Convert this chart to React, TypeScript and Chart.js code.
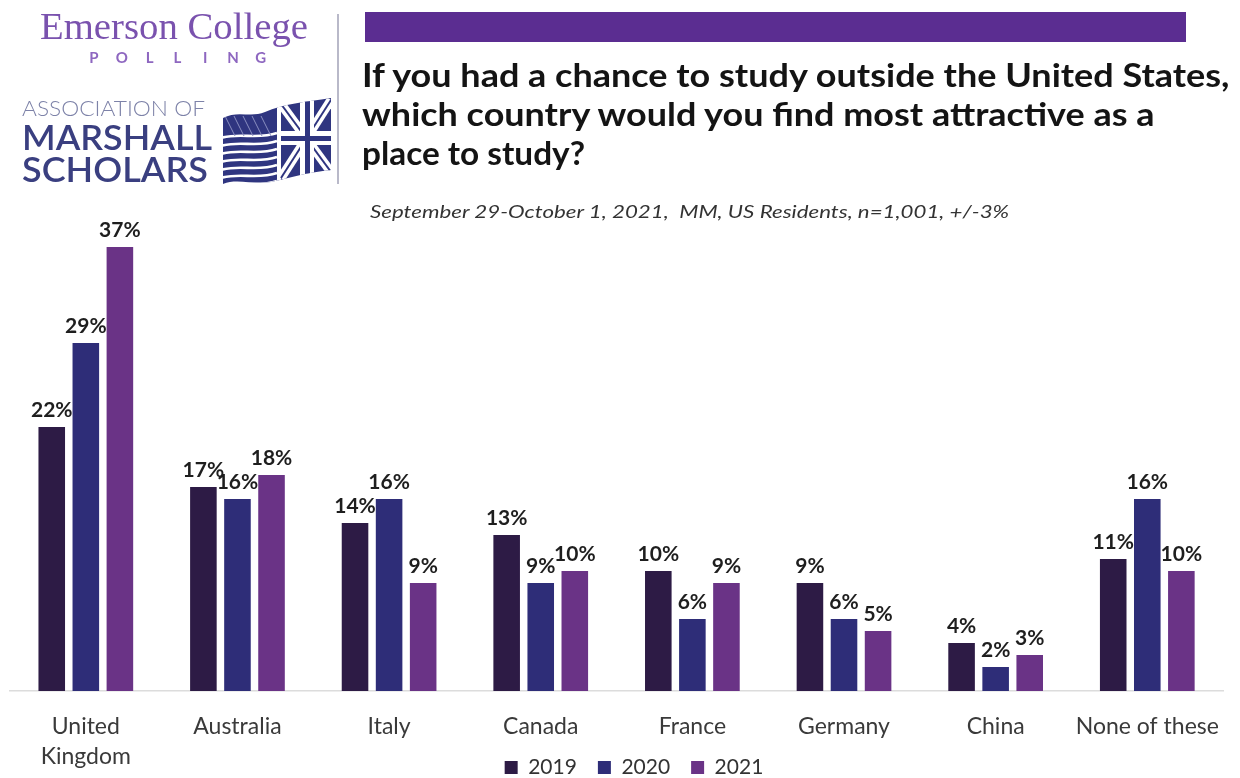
import React, { useEffect, useRef } from 'react';
import { Chart, registerables } from 'chart.js';

Chart.register(...registerables);

// ---- data ----
const categories: (string | string[])[] = [
  ['United', 'Kingdom'],
  'Australia',
  'Italy',
  'Canada',
  'France',
  'Germany',
  'China',
  'None of these',
];
const seriesNames = ['2019', '2020', '2021'];
const values2019 = [22, 17, 14, 13, 10, 9, 4, 11];
const values2020 = [29, 16, 16, 9, 6, 6, 2, 16];
const values2021 = [37, 18, 9, 10, 9, 5, 3, 10];
const seriesColors = ['#2D1B45', '#2E2D78', '#6A3386'];
const yMax = 40;

const titleLines = [
  'If you had a chance to study outside the United States,',
  'which country would you find most attractive as a',
  'place to study?',
];
const subtitleText = 'September 29-October 1, 2021,  MM, US Residents, n=1,001, +/-3%';

// ---- text helper (real HTML text, scaled horizontally to the reference width) ----
let measureCtx: CanvasRenderingContext2D | null = null;
function measure(text: string, font: string) {
  if (!measureCtx) measureCtx = document.createElement('canvas').getContext('2d');
  const c = measureCtx as CanvasRenderingContext2D;
  c.font = font;
  const m = c.measureText(text);
  return { w: m.width, asc: m.fontBoundingBoxAscent, desc: m.fontBoundingBoxDescent };
}

type TxtProps = {
  text: string;
  family: string;
  size: number;
  weight?: string;
  italic?: boolean;
  left: number;
  baseline: number;
  width?: number;
  color: string;
  center?: boolean;
};
function Txt({ text, family, size, weight = 'normal', italic = false, left, baseline, width, color, center }: TxtProps) {
  const font = `${italic ? 'italic ' : ''}${weight} ${size}px ${family}`;
  const m = measure(text, font);
  const sx = width ? width / m.w : 1;
  const lh = m.asc + m.desc;
  const x = center ? left - (m.w * sx) / 2 : left;
  return (
    <div
      style={{
        position: 'absolute',
        left: x,
        top: baseline - m.asc,
        fontFamily: family,
        fontSize: size,
        fontWeight: weight as any,
        fontStyle: italic ? 'italic' : 'normal',
        lineHeight: `${lh}px`,
        height: lh,
        color,
        whiteSpace: 'pre',
        transform: `scaleX(${sx})`,
        transformOrigin: '0 0',
      }}
    >
      {text}
    </div>
  );
}

function Flag() {
  const navy = '#2F3580';
  return (
    <svg
      width={112}
      height={86}
      viewBox="0 0 112 86"
      style={{ position: 'absolute', left: 221, top: 98 }}
    >
      <defs>
        <clipPath id="flagClip">
          <path d="M2,20 C16,12 30,20 44,14 C62,6 84,4 110,0 L110,72 C88,74 68,80 50,84 C32,87 16,80 2,86 Z" />
        </clipPath>
      </defs>
      <g clipPath="url(#flagClip)">
        <rect x={0} y={0} width={112} height={86} fill={navy} />
        {[0, 1, 2, 3, 4, 5, 6].map((i) => (
          <path
            key={'s' + i}
            d={`M0,${40 + i * 8} C18,${34 + i * 8} 36,${42 + i * 8} 56,${35 + i * 8}`}
            stroke="#fff"
            strokeWidth={2.6}
            fill="none"
          />
        ))}
        {[0, 1, 2, 3, 4].map((i) => (
          <path
            key={'c' + i}
            d={`M${4 + i * 9},18 L${14 + i * 9},38`}
            stroke="#8a8fc0"
            strokeWidth={1}
            fill="none"
          />
        ))}
        <rect x={56} y={0} width={4} height={86} fill="#fff" />
        <path d="M60,6 L110,74" stroke="#fff" strokeWidth={9} />
        <path d="M60,80 L110,2" stroke="#fff" strokeWidth={9} />
        <path d="M60,6 L110,74" stroke={navy} strokeWidth={2} />
        <path d="M60,80 L110,2" stroke={navy} strokeWidth={2} />
        <rect x={60} y={33} width={52} height={14} fill="#fff" />
        <rect x={79} y={0} width={14} height={86} fill="#fff" />
        <rect x={60} y={38} width={52} height={5} fill={navy} />
        <rect x={84} y={0} width={5} height={86} fill={navy} />
      </g>
    </svg>
  );
}

const valueLabels = {
  id: 'valueLabels',
  afterDatasetsDraw(chart: any) {
    const ctx = chart.ctx as CanvasRenderingContext2D;
    ctx.save();
    ctx.font = 'bold 21px Lato';
    ctx.fillStyle = '#1e1e1e';
    ctx.textAlign = 'center';
    ctx.textBaseline = 'alphabetic';
    chart.data.datasets.forEach((ds: any, di: number) => {
      const meta = chart.getDatasetMeta(di);
      meta.data.forEach((el: any, i: number) => {
        ctx.fillText(`${ds.data[i]}%`, el.x, el.y - 10);
      });
    });
    ctx.restore();
  },
};

// Let the two-line category labels extend into the legend band (no clipping),
// and nudge the legend to the reference's horizontal position.
const layoutTweaks = {
  id: 'layoutTweaks',
  afterLayout(chart: any) {
    const x = chart.scales.x;
    if (x) x.bottom = chart.height;
    if (chart.legend) {
      chart.legend.left += 10;
      chart.legend.right += 10;
    }
  },
};

export default function App() {
  const canvasRef = useRef<HTMLCanvasElement | null>(null);

  useEffect(() => {
    if (!canvasRef.current) return;
    const allValues = [values2019, values2020, values2021];
    const chart = new Chart(canvasRef.current, {
      type: 'bar',
      data: {
        labels: categories,
        datasets: seriesNames.map((name, i) => ({
          label: name,
          data: allValues[i],
          backgroundColor: seriesColors[i],
          borderWidth: 0,
          categoryPercentage: 0.674,
          barPercentage: 0.78,
        })),
      },
      options: {
        responsive: false,
        animation: false,
        devicePixelRatio: 1,
        layout: { padding: { top: 211, left: 10, right: 2, bottom: 0 } },
        scales: {
          x: {
            grid: { display: false, drawTicks: false },
            border: { display: true, color: '#dcdcdc', width: 1.5 },
            ticks: {
              font: { family: 'Lato', size: 23, lineHeight: 1.3 },
              color: '#3a3a3a',
              padding: 21,
              maxRotation: 0,
              autoSkip: false,
            },
            afterFit: (scale: any) => {
              scale.height = 45;
            },
          },
          y: { display: false, min: 0, max: yMax },
        },
        plugins: {
          legend: {
            position: 'bottom',
            labels: {
              boxWidth: 13,
              boxHeight: 13,
              font: { family: 'Lato', size: 21 },
              color: '#333',
              padding: 21,
            },
          },
          tooltip: { enabled: false },
        },
      },
      plugins: [valueLabels, layoutTweaks],
    });
    return () => chart.destroy();
  }, []);

  return (
    <div
      style={{
        position: 'absolute',
        left: 0,
        top: 0,
        width: 1240,
        height: 778,
        overflow: 'hidden',
        background: '#fff',
      }}
    >
      <canvas ref={canvasRef} width={1240} height={788} style={{ position: 'absolute', left: 0, top: 0 }} />

      {/* logos */}
      <Txt text="Emerson College" family="'Liberation Serif'" size={38} left={40} baseline={39} width={268} color="#7A52AE" />
      {'POLLING'.split('').map((ch, i) => (
        <Txt key={i} text={ch} family="Lato" size={15} weight="bold" left={94 + i * 27.8} baseline={63} color="#8E67C0" center />
      ))}
      <Txt text="ASSOCIATION OF" family="Lato" size={21} weight="300" left={22} baseline={116} width={183} color="#7D82A8" />
      <Txt text="MARSHALL" family="Lato" size={35} weight="600" left={22} baseline={150} width={190} color="#3A3F80" />
      <Txt text="SCHOLARS" family="Lato" size={35} weight="600" left={22} baseline={182} width={186} color="#3A3F80" />
      <Flag />
      <div style={{ position: 'absolute', left: 337, top: 14, width: 2, height: 170, background: '#B9B9C9' }} />

      {/* header band and title */}
      <div style={{ position: 'absolute', left: 365, top: 12, width: 821, height: 30, background: '#5B2D91' }} />
      <Txt text={titleLines[0]} family="Lato" size={32} weight="bold" left={362} baseline={87} width={870} color="#141414" />
      <Txt text={titleLines[1]} family="Lato" size={32} weight="bold" left={362} baseline={126} width={795} color="#141414" />
      <Txt text={titleLines[2]} family="Lato" size={32} weight="bold" left={362} baseline={165} width={223} color="#141414" />
      <Txt text={subtitleText} family="Lato" size={18} italic left={370} baseline={218} width={640} color="#333" />
    </div>
  );
}
